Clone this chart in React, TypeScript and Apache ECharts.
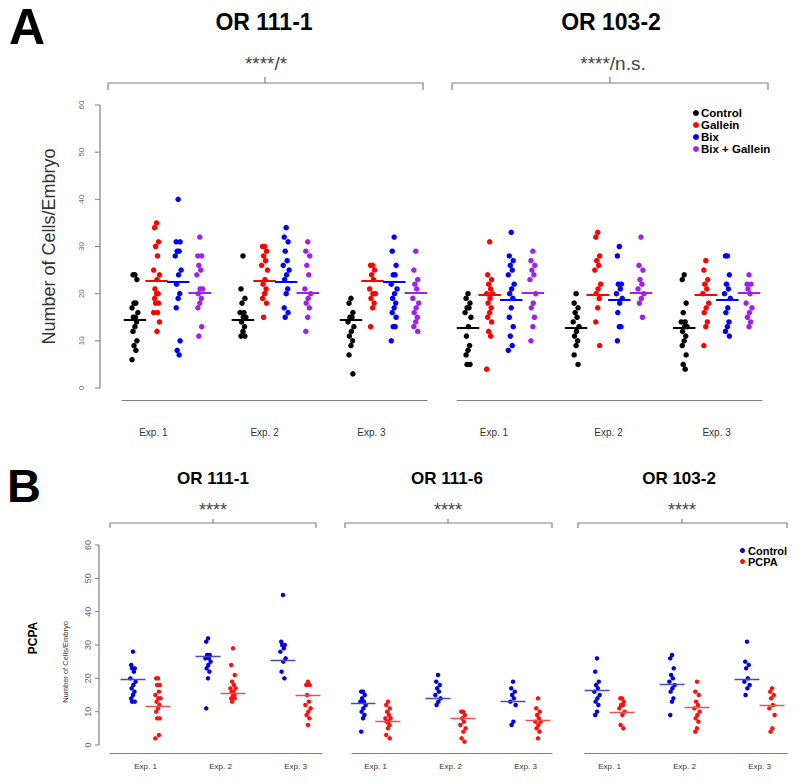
import React, { useEffect, useRef } from "react";
import * as echarts from "echarts";

// ---------- labels ----------
const expLabels = ["Exp. 1", "Exp. 2", "Exp. 3"];
const treatmentsA = ["Control", "Gallein", "Bix", "Bix + Gallein"];
const treatmentsB = ["Control", "PCPA"];
const yAxisTitle = "Number of Cells/Embryo";
const yTicks = [0, 10, 20, 30, 40, 50, 60];

// ---------- Panel A, OR 111-1 (per experiment) ----------
const a1Control = [
  [24, 24, 23, 18, 18, 17, 16, 15, 15, 14, 13, 12, 10, 9, 8, 6],
  [28, 21, 19, 18, 16, 16, 15, 15, 14, 13, 12, 11, 11],
  [19, 18, 16, 15, 15, 14, 13, 12, 11, 10, 9, 7, 3],
];
const a1Gallein = [
  [35, 34, 31, 30, 28, 25, 24, 23, 21, 20, 20, 19, 18, 18, 16, 16, 14, 12],
  [30, 30, 29, 28, 27, 26, 25, 23, 22, 21, 20, 19, 18, 15],
  [26, 26, 25, 24, 23, 21, 20, 20, 19, 18, 17, 13],
];
const a1Bix = [
  [40, 31, 31, 29, 29, 28, 25, 24, 22, 20, 19, 17, 10, 8, 7],
  [34, 32, 31, 29, 27, 26, 25, 24, 23, 21, 20, 17, 16, 15],
  [32, 29, 26, 24, 24, 22, 21, 20, 19, 18, 17, 16, 15, 13, 13, 10],
];
const a1BixGallein = [
  [32, 28, 28, 26, 25, 24, 21, 21, 20, 19, 18, 17, 13, 11],
  [31, 29, 28, 26, 24, 21, 20, 19, 18, 17, 15, 12],
  [29, 25, 23, 22, 21, 19, 18, 17, 16, 15, 14, 13, 12],
];
const a1Means = [14.5, 22.8, 22.5, 20.2];

// ---------- Panel A, OR 103-2 ----------
const a2Control = [
  [20, 19, 18, 17, 17, 16, 15, 13, 11, 9, 8, 7, 5, 5],
  [20, 18, 17, 16, 15, 14, 13, 12, 11, 10, 9, 7, 5],
  [24, 23, 18, 16, 14, 14, 13, 13, 12, 11, 10, 9, 7, 5, 4],
];
const a2Gallein = [
  [31, 24, 23, 22, 21, 20, 20, 19, 18, 17, 16, 15, 14, 12, 11, 4],
  [33, 32, 28, 27, 26, 25, 22, 21, 20, 19, 17, 14, 9],
  [27, 25, 23, 22, 21, 20, 18, 17, 16, 14, 13, 9],
];
const a2Bix = [
  [33, 28, 27, 26, 25, 24, 22, 21, 20, 19, 17, 15, 13, 11, 9, 8],
  [30, 28, 22, 22, 21, 20, 19, 18, 16, 13, 13, 10],
  [28, 28, 24, 22, 21, 20, 19, 17, 16, 14, 13, 12, 11],
];
const a2BixGallein = [
  [29, 27, 26, 25, 24, 23, 20, 18, 17, 15, 13, 10],
  [32, 26, 25, 23, 22, 21, 20, 19, 18, 15],
  [24, 22, 22, 21, 20, 18, 17, 16, 15, 14, 13],
];
const a2Means = [12.8, 19.7, 18.8, 20.1];

// ---------- Panel B (PCPA) ----------
const b1Control = [
  [28, 24, 23, 23, 22, 20, 19, 18, 17, 16, 15, 14, 13, 13],
  [32, 31, 27, 27, 26, 26, 25, 24, 23, 22, 20, 11],
  [45, 31, 30, 30, 29, 28, 26, 25, 22, 20],
];
const b1PCPA = [
  [20, 20, 18, 18, 16, 15, 14, 14, 13, 12, 11, 10, 8, 8, 3, 2],
  [29, 24, 21, 19, 18, 17, 17, 16, 16, 15, 15, 14, 14, 13],
  [19, 18, 18, 15, 13, 12, 11, 10, 9, 8, 6],
];
const b1ControlMeans = [19.8, 26.5, 25.5];
const b1PCPAMeans = [11.5, 15.5, 14.8];

const b2Control = [
  [16, 16, 15, 14, 13, 13, 12, 11, 10, 9, 8, 4],
  [21, 19, 18, 17, 16, 15, 14, 13, 12],
  [19, 17, 16, 15, 14, 13, 12, 7, 6],
];
const b2PCPA = [
  [13, 12, 11, 10, 9, 8, 8, 7, 7, 6, 5, 3, 2],
  [10, 10, 9, 8, 7, 6, 5, 4, 2, 1],
  [14, 11, 10, 9, 8, 7, 7, 6, 5, 4, 2],
];
const b2ControlMeans = [12.5, 14, 13.2];
const b2PCPAMeans = [7, 8, 7.5];

const b3Control = [
  [26, 22, 19, 18, 17, 16, 15, 14, 13, 12, 10, 9],
  [27, 26, 23, 21, 20, 19, 18, 17, 16, 14, 13, 9],
  [31, 25, 24, 23, 20, 19, 18, 17, 15],
];
const b3PCPA = [
  [14, 14, 13, 12, 12, 11, 10, 9, 6, 5],
  [19, 16, 15, 13, 12, 11, 10, 9, 8, 7, 5, 4],
  [17, 16, 15, 14, 12, 11, 9, 5, 4],
];
const b3ControlMeans = [16.3, 18.2, 19.7];
const b3PCPAMeans = [9.9, 11.3, 12];

// ---------- styling ----------
const colorsA = ["#000000", "#ff0000", "#0000ff", "#a020f0"];
const colorsB = ["#0000e6", "#ff1010"];
const meanColorsB = ["#4a4ac8", "#ee5050"];
const axisGray = "#808080";
const FONT = "Arial, 'Liberation Sans', sans-serif";

// deterministic horizontal jitter pattern (layout only)
const jitterPattern = [0, -1, 1, -0.5, 0.5, -1.5, 1.5, 0.2, -0.8, 0.8];

type GridDef = { left: number; top: number; width: number; height: number; min: number; max: number; labelPos: number[] };
const gridsLayout: GridDef[] = [
  { left: 122, top: 105, width: 305, height: 283, min: -0.6, max: 13.52, labelPos: [0.85, 6, 10.95] },
  { left: 457, top: 105, width: 305, height: 283, min: -0.51, max: 13.6, labelPos: [1.2, 6.5, 11.5] },
  { left: 110, top: 545, width: 212, height: 200, min: -0.92, max: 7.56, labelPos: [0.5, 3.5, 6.5] },
  { left: 352, top: 545, width: 200, height: 200, min: -0.44, max: 7.56, labelPos: [0.5, 3.5, 6.5] },
  { left: 585, top: 545, width: 202, height: 200, min: -0.48, max: 7.6, labelPos: [0.5, 3.5, 6.5] },
];
// y axes drawn to the left of grids 0 and 2
const yAxisLayout = [
  { grid: 0, gap: 22, tickLen: 5, labelSize: 8, labelMargin: 15, title: true },
  { grid: 2, gap: 11, tickLen: 4, labelSize: 9, labelMargin: 7, title: false },
];

function scatterSeries(gi: number, name: string, color: string, groups: number[][], slot: number, stride: number, size: number, jit: number) {
  const data: number[][] = [];
  groups.forEach((vals, e) => {
    vals.forEach((v, i) => {
      data.push([e * stride + slot + jitterPattern[i % jitterPattern.length] * jit, v]);
    });
  });
  return {
    type: "scatter",
    name,
    xAxisIndex: gi,
    yAxisIndex: gi,
    symbol: "circle",
    symbolSize: size,
    itemStyle: { color, opacity: 1 },
    silent: true,
    z: 2,
    data,
  };
}

function meanSeries(gi: number, items: { pos: number; mean: number; color: string }[], halfWidth: number, width: number) {
  return {
    type: "lines",
    coordinateSystem: "cartesian2d",
    xAxisIndex: gi,
    yAxisIndex: gi,
    silent: true,
    z: 5,
    lineStyle: { width, opacity: 1 },
    data: items.map((it) => ({
      coords: [
        [it.pos - halfWidth, it.mean],
        [it.pos + halfWidth, it.mean],
      ],
      lineStyle: { color: it.color, width, opacity: 1 },
    })),
  };
}

function bracket(x1: number, x2: number, y: number, xc: number, down: number, up: number) {
  const style = { stroke: axisGray, lineWidth: 1.2, fill: null };
  return [
    { type: "polyline", shape: { points: [[x1, y + down], [x1, y], [x2, y], [x2, y + down]] }, style, silent: true },
    { type: "line", shape: { x1: xc, y1: y - up, x2: xc, y2: y }, style, silent: true },
  ];
}

// y-axis line + ticks (decoration placed from the grid geometry and the 0–60 axis range)
function yAxisDecor(ax: { grid: number; gap: number; tickLen: number }) {
  const g = gridsLayout[ax.grid];
  const x = g.left - ax.gap;
  const yOf = (v: number) => g.top + g.height * (1 - v / 60);
  const style = { stroke: axisGray, lineWidth: 1.2, fill: null };
  const els: any[] = [
    { type: "polyline", silent: true, z: 100, shape: { points: [[x, yOf(0)], [x, yOf(60)]] }, style },
  ];
  yTicks.forEach((v) => {
    els.push({ type: "polyline", silent: true, z: 100, shape: { points: [[x - ax.tickLen, yOf(v)], [x, yOf(v)]] }, style: { ...style, lineWidth: 1 } });
  });
  return els;
}

function text(x: number, y: number, t: string, fontSize: number, opts: any = {}) {
  return {
    type: "text",
    x,
    y,
    rotation: opts.rotation || 0,
    silent: true,
    style: {
      text: t,
      fontSize,
      fontWeight: opts.bold ? "bold" : "normal",
      fontFamily: FONT,
      fill: opts.color || "#000",
      align: "center",
      verticalAlign: "middle",
    },
  };
}

export default function App() {
  const ref = useRef<HTMLDivElement>(null);

  useEffect(() => {
    if (!ref.current) return;
    const chart = echarts.init(ref.current, undefined, { renderer: "svg" });

    const series: any[] = [];
    const aSets = [
      { gi: 0, groups: [a1Control, a1Gallein, a1Bix, a1BixGallein], means: a1Means },
      { gi: 1, groups: [a2Control, a2Gallein, a2Bix, a2BixGallein], means: a2Means },
    ];
    aSets.forEach(({ gi, groups, means }) => {
      groups.forEach((g, t) => series.push(scatterSeries(gi, treatmentsA[t], colorsA[t], g, t, 5, 5.5, 0.09)));
      const items: any[] = [];
      for (let e = 0; e < 3; e++) for (let t = 0; t < 4; t++) items.push({ pos: e * 5 + t, mean: means[t], color: colorsA[t] });
      series.push(meanSeries(gi, items, 0.52, 2));
    });
    const bSets = [
      { gi: 2, groups: [b1Control, b1PCPA], means: [b1ControlMeans, b1PCPAMeans] },
      { gi: 3, groups: [b2Control, b2PCPA], means: [b2ControlMeans, b2PCPAMeans] },
      { gi: 4, groups: [b3Control, b3PCPA], means: [b3ControlMeans, b3PCPAMeans] },
    ];
    bSets.forEach(({ gi, groups, means }) => {
      groups.forEach((g, t) => series.push(scatterSeries(gi, treatmentsB[t], colorsB[t], g, t, 3, 4.5, 0.07)));
      const items: any[] = [];
      for (let e = 0; e < 3; e++) for (let t = 0; t < 2; t++) items.push({ pos: e * 3 + t, mean: means[t][e], color: meanColorsB[t] });
      series.push(meanSeries(gi, items, 0.5, 1.4));
    });

    const xAxes: any[] = gridsLayout.map((g, i) => {
      const isA = i < 2;
      return {
        type: "value",
        gridIndex: i,
        min: g.min,
        max: g.max,
        position: "bottom",
        offset: isA ? 12 : 8,
        axisLine: { show: true, onZero: false, lineStyle: { color: axisGray, width: 1.2 } },
        axisTick: { show: false },
        splitLine: { show: false },
        axisLabel: {
          customValues: g.labelPos,
          formatter: (v: number) => {
            const idx = g.labelPos.indexOf(v);
            return idx >= 0 ? expLabels[idx] : "";
          },
          fontSize: isA ? 10 : 8,
          color: "#333",
          margin: isA ? 27 : 9,
          fontFamily: FONT,
        },
      };
    });

    const yAxes: any[] = gridsLayout.map((g, i) => {
      const ax = yAxisLayout.find((a) => a.grid === i);
      if (!ax) return { type: "value", gridIndex: i, min: 0, max: 60, interval: 10, show: false };
      return {
        type: "value",
        gridIndex: i,
        min: 0,
        max: 60,
        interval: 10,
        position: "left",
        offset: ax.gap,
        axisLine: { show: false },
        axisTick: { show: false },
        splitLine: { show: false },
        axisLabel: { rotate: 90, fontSize: ax.labelSize, color: "#666", margin: ax.labelMargin, fontFamily: FONT },
        name: ax.title ? yAxisTitle : "",
        nameLocation: "middle",
        nameGap: 42,
        nameTextStyle: { fontSize: 18, color: "#333", fontFamily: FONT },
      };
    });

    const graphic: any[] = [
      text(27, 27, "A", 50, { bold: true }),
      text(264, 22, "OR 111-1", 23, { bold: true }),
      text(611, 22, "OR 103-2", 23, { bold: true }),
      text(266, 63, "****/*", 19, { color: "#444" }),
      text(613, 63, "****/n.s.", 19, { color: "#444" }),
      ...bracket(108, 423, 83, 265, 7, 6),
      ...bracket(452, 768, 83, 610, 7, 6),
      text(24, 485, "B", 47, { bold: true }),
      text(213, 478, "OR 111-1", 17, { bold: true }),
      text(447, 478, "OR 111-6", 17, { bold: true }),
      text(679, 478, "OR 103-2", 17, { bold: true }),
      text(213, 510, "****", 18, { color: "#444" }),
      text(448, 510, "****", 18, { color: "#444" }),
      text(682, 510, "****", 18, { color: "#444" }),
      ...bracket(110, 316, 523, 213, 5, 4),
      ...bracket(345, 552, 523, 448, 5, 4),
      ...bracket(578, 787, 523, 682, 5, 4),
      text(33, 638, "PCPA", 12, { bold: true, rotation: Math.PI / 2 }),
      text(65, 662, yAxisTitle, 7.5, { color: "#333", rotation: Math.PI / 2 }),
      ...yAxisDecor(yAxisLayout[0]),
      ...yAxisDecor(yAxisLayout[1]),
    ];

    chart.setOption({
      animation: false,
      textStyle: { fontFamily: FONT },
      grid: gridsLayout.map((g) => ({ left: g.left, top: g.top, width: g.width, height: g.height, containLabel: false })),
      xAxis: xAxes,
      yAxis: yAxes,
      legend: [
        {
          orient: "vertical",
          left: 688,
          top: 102,
          itemWidth: 6,
          itemHeight: 6,
          itemGap: 0,
          icon: "circle",
          selectedMode: false,
          textStyle: { fontSize: 11.5, fontWeight: "bold", color: "#000", lineHeight: 11.7, fontFamily: FONT, padding: [0, 0, 0, -3] },
          data: treatmentsA.map((n, t) => ({ name: n, itemStyle: { color: colorsA[t] } })),
        },
        {
          orient: "vertical",
          left: 735,
          top: 540,
          itemWidth: 5,
          itemHeight: 5,
          itemGap: 0,
          icon: "circle",
          selectedMode: false,
          textStyle: { fontSize: 11, fontWeight: "bold", color: "#000", lineHeight: 10, fontFamily: FONT, padding: [0, 0, 0, -2] },
          data: treatmentsB.map((n, t) => ({ name: n, itemStyle: { color: colorsB[t] } })),
        },
      ],
      series,
      graphic,
    });

    return () => chart.dispose();
  }, []);

  return <div ref={ref} style={{ position: "absolute", left: 0, top: 0, width: 800, height: 784, background: "#fff" }} />;
}
